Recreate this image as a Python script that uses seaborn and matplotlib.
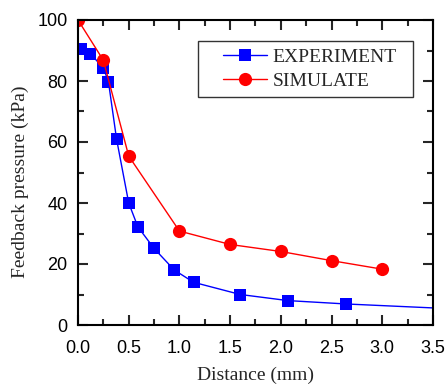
import matplotlib
matplotlib.use("Agg")
import matplotlib.pyplot as plt
import seaborn as sns
import pandas as pd
from matplotlib.ticker import MultipleLocator
from matplotlib.patches import Rectangle

exp_x = [0.03, 0.12, 0.25, 0.30, 0.38, 0.50, 0.59, 0.75, 0.95, 1.14, 1.60, 2.07, 2.64, 3.5]
exp_y = [90.6, 89.0, 84.3, 79.8, 61.0, 40.0, 32.2, 25.1, 18.0, 14.0, 10.0, 8.0, 6.9, 5.6]
sim_x = [0.0, 0.25, 0.5, 1.0, 1.5, 2.0, 2.5, 3.0]
sim_y = [100.0, 86.8, 55.4, 30.8, 26.4, 24.1, 21.1, 18.3]

sns.set_style("ticks")
plt.rcParams['font.family'] = ['Liberation Sans', 'DejaVu Sans']

fig = plt.figure(figsize=(4.47, 3.88), dpi=100)
ax = fig.add_axes([78/447, 1-325/388, (433-78)/447, (325-20)/388])

df_e = pd.DataFrame({"x": exp_x, "y": exp_y})
df_s = pd.DataFrame({"x": sim_x, "y": sim_y})

sns.lineplot(data=df_e, x="x", y="y", ax=ax, color="blue", marker="s", markersize=8.5,
             markeredgewidth=0, lw=1.0, markevery=list(range(len(exp_x) - 1)),
             label="EXPERIMENT", sort=False)
sns.lineplot(data=df_s, x="x", y="y", ax=ax, color="red", marker="o", markersize=9.5,
             markeredgewidth=0, lw=1.0, label="SIMULATE", sort=False)

ax.set_xlim(0, 3.5)
ax.set_ylim(0, 100)
ax.xaxis.set_major_locator(MultipleLocator(0.5))
ax.xaxis.set_minor_locator(MultipleLocator(0.25))
ax.yaxis.set_major_locator(MultipleLocator(20))
ax.yaxis.set_minor_locator(MultipleLocator(10))
ax.set_xticklabels([f"{v:.1f}" for v in ax.get_xticks()])
ax.tick_params(which="both", direction="in", top=True, right=True, width=1.5,
               labelsize=13, labelcolor="black")
ax.tick_params(axis="x", which="major", pad=11)
ax.tick_params(axis="y", which="major", pad=7.5)
ax.tick_params(which="major", length=7)
ax.tick_params(which="minor", length=4)
for s in ax.spines.values():
    s.set_linewidth(1.5)
    s.set_color("black")

serif = ['Liberation Serif', 'DejaVu Serif']
ax.set_xlabel("Distance (mm)", fontsize=14, family=serif, labelpad=7)
ax.set_ylabel("Feedback pressure (kPa)", fontsize=14, family=serif, labelpad=6)
ax.yaxis.label.set_y(0.47)

ax.add_patch(Rectangle((0.338, 0.748), 0.606, 0.183, transform=ax.transAxes,
                       fill=False, edgecolor="#333333", lw=1.0, zorder=5))
leg = ax.legend(loc="upper left", bbox_to_anchor=(0.408, 0.908), prop={'family': serif, 'size': 14},
                frameon=False, handlelength=2.27, borderpad=0.0, borderaxespad=0.0,
                labelspacing=0.35, handletextpad=0.3)

fig.savefig("out.png", dpi=100)
